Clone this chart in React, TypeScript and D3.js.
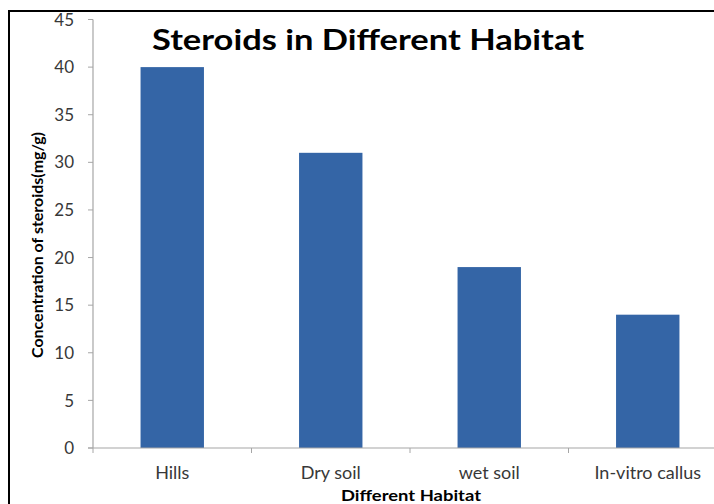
import React from "react";
import * as d3 from "d3";

const categories = ["Hills", "Dry soil", "wet soil", "In-vitro callus"];
const values = [40, 31, 19, 14];
const yTicks = [0, 5, 10, 15, 20, 25, 30, 35, 40, 45];
const title = "Steroids in Different Habitat";
const xTitle = "Different Habitat";
const yTitle = "Concentration of steroids(mg/g)";

const W = 714;
const H = 504;
const FONT = "Lato, 'Open Sans', 'DejaVu Sans', sans-serif";

export default function App() {
  const x = d3.scaleBand<string>().domain(categories).range([93, 727]).paddingInner(0.6).paddingOuter(0.3);
  const y = d3.scaleLinear().domain([0, 45]).range([448, 19.5]);
  const step = x.step();
  const left = 93;
  const tickBoundaries = d3.range(categories.length + 1).map((i) => left + i * step);

  return (
    <svg width={W} height={H} style={{ position: "absolute", left: 0, top: 0, background: "#fff" }}>
      <rect x={0} y={0} width={W} height={H} fill="#fff" />
      {/* outer border */}
      <line x1={9} y1={11} x2={W} y2={11} stroke="#000" strokeWidth={2} />
      <line x1={9} y1={10} x2={9} y2={H} stroke="#000" strokeWidth={2} />

      {/* y axis */}
      <line x1={left} y1={y(45)} x2={left} y2={y(0)} stroke="#a6a6a6" strokeWidth={1.2} />
      {yTicks.map((t) => (
        <g key={t}>
          <line x1={left - 5} y1={y(t)} x2={left} y2={y(t)} stroke="#a6a6a6" strokeWidth={1} />
          <text x={74} y={y(t)} dy="0.36em" textAnchor="end" fontFamily={FONT} fontSize={17} fill="#383838">
            {t}
          </text>
        </g>
      ))}

      {/* bars */}
      {categories.map((c, i) => (
        <rect key={c} x={x(c)} y={y(values[i])} width={x.bandwidth()} height={y(0) - y(values[i])} fill="#3465a6" />
      ))}

      {/* x axis */}
      <line x1={left - 5} y1={y(0)} x2={W} y2={y(0)} stroke="#a6a6a6" strokeWidth={1.2} />
      {tickBoundaries.map((bx, i) => (
        <line key={i} x1={bx} y1={y(0)} x2={bx} y2={y(0) + 5} stroke="#a6a6a6" strokeWidth={1} />
      ))}
      {categories.map((c) => (
        <text key={c} x={(x(c) as number) + x.bandwidth() / 2} y={479} textAnchor="middle" fontFamily={FONT} fontSize={18} fill="#383838">
          {c}
        </text>
      ))}

      {/* titles */}
      <text x={152} y={50} fontFamily={FONT} fontWeight="bold" fontSize={29} fill="#000" textLength={432} lengthAdjust="spacingAndGlyphs">
        {title}
      </text>
      <text x={411} y={501} textAnchor="middle" fontFamily={FONT} fontWeight="bold" fontSize={16} fill="#000" textLength={140} lengthAdjust="spacingAndGlyphs">
        {xTitle}
      </text>
      <text transform={`translate(43,245) rotate(-90)`} textAnchor="middle" fontFamily={FONT} fontWeight="bold" fontSize={16} fill="#000" textLength={226} lengthAdjust="spacingAndGlyphs">
        {yTitle}
      </text>
    </svg>
  );
}
